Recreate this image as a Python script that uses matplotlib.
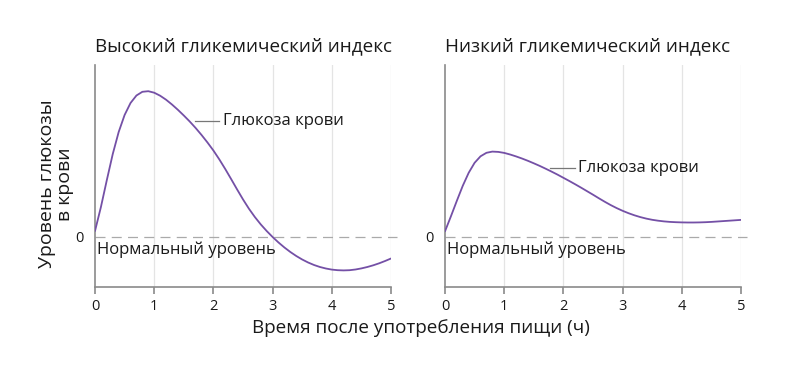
import matplotlib
matplotlib.use("Agg")
import matplotlib.pyplot as plt

plt.rcParams['font.family'] = ['Open Sans', 'DejaVu Sans']

# Data (relative blood glucose level vs hours after meal)
hours = [0.0, 0.1, 0.2, 0.3, 0.4, 0.5, 0.6, 0.7, 0.8, 0.9,
         1.0, 1.1, 1.2, 1.3, 1.4, 1.5, 1.6, 1.7, 1.8, 1.9,
         2.0, 2.1, 2.2, 2.3, 2.4, 2.5, 2.6, 2.7, 2.8, 2.9,
         3.0, 3.1, 3.2, 3.3, 3.4, 3.5, 3.6, 3.7, 3.8, 3.9,
         4.0, 4.1, 4.2, 4.3, 4.4, 4.5, 4.6, 4.7, 4.8, 4.9, 5.0]
glucose_high = [6, 30, 57, 83, 105, 122, 134, 141.5, 145.2, 145.8,
                144.3, 141.3, 137.3, 132.5, 127.2, 121.5, 115.5, 109, 102, 94.5,
                86.5, 77.6, 68, 57.9, 47.6, 37.6, 28.3, 20, 12.6, 6,
                0, -5.5, -10.5, -15, -19, -22.5, -25.5, -28, -30, -31.5,
                -32.6, -33.2, -33.4, -33.2, -32.5, -31.4, -30, -28.3, -26.3, -24.0, -21.5]
glucose_low = [5.7, 20.7, 36.2, 51.2, 64.2, 74.2, 80.7, 84.2, 85.4, 85.1,
               84.1, 82.5, 80.6, 78.5, 76.2, 73.7, 71.1, 68.3, 65.4, 62.4,
               59.2, 56, 52.7, 49.3, 45.8, 42.3, 38.7, 35.2, 31.9, 28.9,
               26.2, 23.8, 21.7, 19.9, 18.4, 17.2, 16.3, 15.6, 15.1, 14.8,
               14.6, 14.5, 14.5, 14.6, 14.8, 15.1, 15.5, 15.9, 16.3, 16.7, 17.1]

titles = ["Высокий гликемический индекс", "Низкий гликемический индекс"]
x_ticks = [0, 1, 2, 3, 4, 5]
x_ticklabels = ["0", "1", "2", "3", "4", "5"]
curve_label = "Глюкоза крови"
normal_label = "Нормальный уровень"
y_label = "Уровень глюкозы\nв крови"
x_label = "Время после употребления пищи (ч)"

LINE = '#7450a6'
SPINE = '#8a8a8a'
GRID = '#e4e4e4'
TEXT = '#1a1a1a'

fig = plt.figure(figsize=(8.07, 3.74), dpi=100)
positions = [[95/807, 87/374, 296/807, 222/374], [445/807, 87/374, 296/807, 222/374]]
series = [glucose_high, glucose_low]
label_pos = [((1.69, 2.09), 2.16, 115.5), ((1.77, 2.19), 2.25, 69)]

for i, (pos, ys) in enumerate(zip(positions, series)):
    ax = fig.add_axes(pos)
    ax.set_xlim(0, 5)
    ax.set_ylim(-50, 172)
    for t in x_ticks[1:]:
        ax.axvline(t, color=GRID, lw=0.9, zorder=0)
    ax.plot([0, 5.1], [0, 0], color='#aaaaaa', lw=0.9, ls=(0, (8, 5)), clip_on=False, zorder=1)
    ax.plot(hours, ys, color=LINE, lw=1.3, zorder=3, solid_joinstyle='round',
            solid_capstyle='round')
    for s in ['top', 'right']:
        ax.spines[s].set_visible(False)
    for s in ['left', 'bottom']:
        ax.spines[s].set_color(SPINE)
        ax.spines[s].set_linewidth(1.2)
    ax.set_xticks(x_ticks)
    ax.set_xticklabels(x_ticklabels)
    ax.set_yticks([0])
    ax.set_yticklabels(["0"])
    ax.tick_params(axis='x', colors=SPINE, length=5, width=1.2, labelsize=10.5,
                   labelcolor=TEXT, pad=4)
    ax.tick_params(axis='y', length=0, labelsize=10.5, labelcolor=TEXT, pad=8)
    ax.set_title(titles[i], loc='left', fontsize=13.6, color=TEXT, pad=10)
    (lx0, lx1), tx, ty = label_pos[i]
    ax.plot([lx0, lx1], [ty, ty], color='#777777', lw=0.9, zorder=2)
    ax.text(tx, ty, curve_label, fontsize=12, color=TEXT, va='center', ha='left')
    ax.text(0.04, -4, normal_label, fontsize=12, color=TEXT, va='top', ha='left')

fig.text(56/807, 1 - 184/374, y_label, rotation=90, ha='center', va='center',
         fontsize=14, color=TEXT, linespacing=1.05)
fig.text(421/807, 1 - 328/374, x_label, ha='center', va='center', fontsize=13.6, color=TEXT)

fig.savefig("out.png", dpi=100, facecolor='white')
